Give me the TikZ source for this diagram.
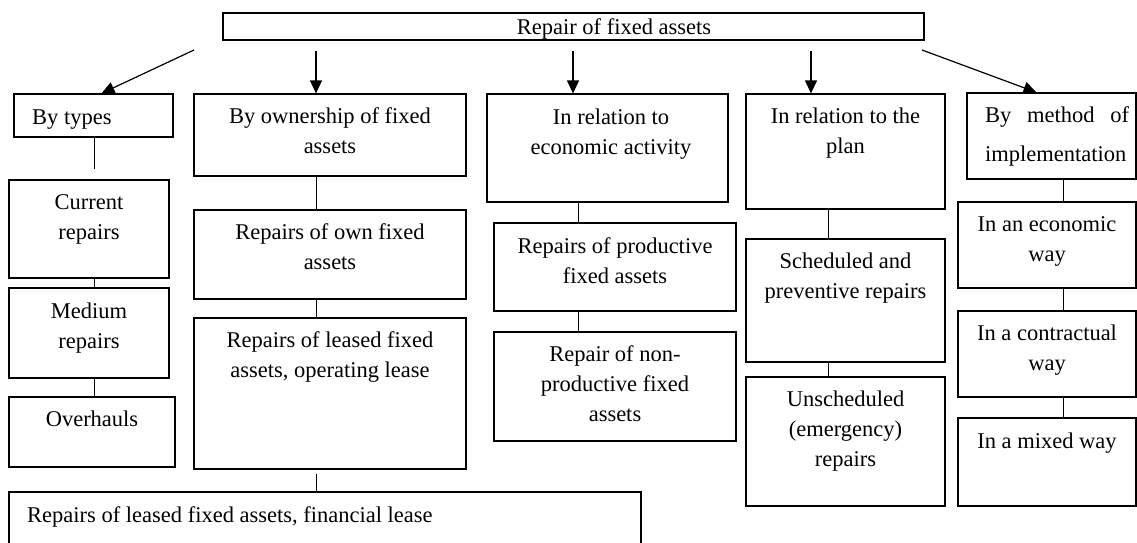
\documentclass[tikz,border=0pt]{standalone}
\usepackage{fontspec}
\setmainfont{Liberation Serif}
\usetikzlibrary{arrows.meta}

\newcommand{\tstrut}{\rule{0pt}{21pt}}

\tikzset{
  box/.style={draw, line width=1.2pt, inner sep=0pt},
  boxtext/.style={inner sep=0pt, anchor=north, align=center,
    font=\fontsize{22.5}{30}\selectfont},
  link/.style={line width=1pt},
  arr/.style={line width=1.2pt, -{Triangle[length=13pt,width=12pt]}}
}

\begin{document}
\begin{tikzpicture}[x=1pt, y=-1pt]
    \useasboundingbox (0,0) rectangle (1137,543);

    % head
    \node[box, minimum width=701pt, minimum height=27pt] (top) at (573.5,26.5) {};
    \node[boxtext] (t-top) at (614,13) {\tstrut Repair of fixed assets};

    % column 1
    \node[box, minimum width=159pt, minimum height=43pt] (types) at (93.5,115.5) {};
    \node[box, minimum width=160pt, minimum height=98pt] (cur) at (89,229) {};
    \node[box, minimum width=160pt, minimum height=90pt] (med) at (89,333) {};
    \node[box, minimum width=166pt, minimum height=70pt] (over) at (92,432) {};
    \node[boxtext, anchor=north west] (t-types) at (32,103) {\tstrut By types};
    \node[boxtext] (t-cur) at ([yshift=-9pt]cur.north) {\tstrut Current\\repairs};
    \node[boxtext] (t-med) at ([yshift=-10pt]med.north) {\tstrut Medium\\repairs};
    \node[boxtext] (t-over) at ([yshift=-9pt]over.north) {\tstrut Overhauls};

    % column 2
    \node[box, minimum width=272pt, minimum height=82pt] (owner) at (330,135) {};
    \node[box, minimum width=272pt, minimum height=89pt] (own) at (330,254.5) {};
    \node[box, minimum width=272pt, minimum height=151pt] (oper) at (330,393.5) {};
    \node[box, minimum width=632pt, minimum height=68pt] (fin) at (325,526) {};
    \node[boxtext] (t-owner) at ([yshift=-9pt]owner.north) {\tstrut By ownership of fixed\\assets};
    \node[boxtext] (t-own) at ([yshift=-9pt]own.north) {\tstrut Repairs of own fixed\\assets};
    \node[boxtext] (t-oper) at ([yshift=-9pt]oper.north) {\tstrut Repairs of leased fixed\\assets, operating lease};
    \node[boxtext, anchor=north west] (t-fin) at (27,501) {\tstrut Repairs of leased fixed assets, financial lease};

    % column 3
    \node[box, minimum width=241pt, minimum height=108pt] (econ) at (607.5,148) {};
    \node[box, minimum width=242pt, minimum height=88pt] (prod) at (615,267) {};
    \node[box, minimum width=242pt, minimum height=109pt] (nonprod) at (615,386.5) {};
    \node[boxtext] (t-econ) at (611,103) {\tstrut In relation to\\economic activity};
    \node[boxtext] (t-prod) at ([yshift=-10pt]prod.north) {\tstrut Repairs of productive\\fixed assets};
    \node[boxtext] (t-nonprod) at ([yshift=-9pt]nonprod.north) {\tstrut Repair of non-\\productive fixed\\assets};

    % column 4
    \node[box, minimum width=199pt, minimum height=115pt] (plan) at (845.5,151.5) {};
    \node[box, minimum width=199pt, minimum height=123pt] (sched) at (845.5,300.5) {};
    \node[box, minimum width=199pt, minimum height=129pt] (unsched) at (845.5,441.5) {};
    \node[boxtext] (t-plan) at ([yshift=-9pt]plan.north) {\tstrut In relation to the\\plan};
    \node[boxtext] (t-sched) at ([yshift=-9pt]sched.north) {\tstrut Scheduled and\\preventive repairs};
    \node[boxtext] (t-unsched) at ([yshift=-9pt]unsched.north) {\tstrut Unscheduled\\(emergency)\\repairs};

    % column 5
    \node[box, minimum width=169pt, minimum height=86pt] (method) at (1051.5,136) {};
    \node[box, minimum width=178pt, minimum height=86pt] (ecway) at (1047,245) {};
    \node[box, minimum width=178pt, minimum height=86pt] (contr) at (1047,354) {};
    \node[box, minimum width=178pt, minimum height=88pt] (mixed) at (1047,462) {};
    \node[boxtext, anchor=north west, align=left, font=\fontsize{22.5}{39}\selectfont]
      (t-method) at (985,101) {\tstrut\makebox[144pt][s]{By method of}\\implementation};
    \node[boxtext] (t-ecway) at ([yshift=-9pt]ecway.north) {\tstrut In an economic\\way};
    \node[boxtext] (t-contr) at ([yshift=-9pt]contr.north) {\tstrut In a contractual\\way};
    \node[boxtext] (t-mixed) at ([yshift=-10pt]mixed.north) {\tstrut In a mixed way};

    % arrows from the head
    \coordinate (a1) at (194,50);
    \coordinate (a2) at (316,51);
    \coordinate (a3) at (573,51);
    \coordinate (a4) at (811,51);
    \coordinate (a5) at (922,50);
    \draw[arr] (a1) -- ([xshift=8pt]types.north);
    \draw[arr] (a2) -- (a2 |- owner.north);
    \draw[arr] (a3) -- (a3 |- econ.north);
    \draw[arr] (a4) -- (a4 |- plan.north);
    \draw[arr] (a5) -- ([xshift=-15pt]method.north);

    % links inside the columns
    \coordinate (c1) at (94,0);
    \coordinate (c2) at (316,0);
    \coordinate (c3) at (578,0);
    \coordinate (c4) at (828,0);
    \coordinate (c5) at (1063,0);
    \draw[link, shorten >=10pt] (types.south -| c1) -- (cur.north -| c1);
    \draw[link] (cur.south -| c1) -- (med.north -| c1);
    \draw[link] (med.south -| c1) -- (over.north -| c1);
    \draw[link] (owner.south -| c2) -- (own.north -| c2);
    \draw[link] (own.south -| c2) -- (oper.north -| c2);
    \draw[link, shorten <=4pt] (oper.south -| c2) -- (fin.north -| c2);
    \draw[link] (econ.south -| c3) -- (prod.north -| c3);
    \draw[link] (prod.south -| c3) -- (nonprod.north -| c3);
    \draw[link] (plan.south -| c4) -- (sched.north -| c4);
    \draw[link] (sched.south -| c4) -- (unsched.north -| c4);
    \draw[link] (method.south -| c5) -- (ecway.north -| c5);
    \draw[link] (ecway.south -| c5) -- (contr.north -| c5);
    \draw[link] (contr.south -| c5) -- (mixed.north -| c5);
\end{tikzpicture}
\end{document}
